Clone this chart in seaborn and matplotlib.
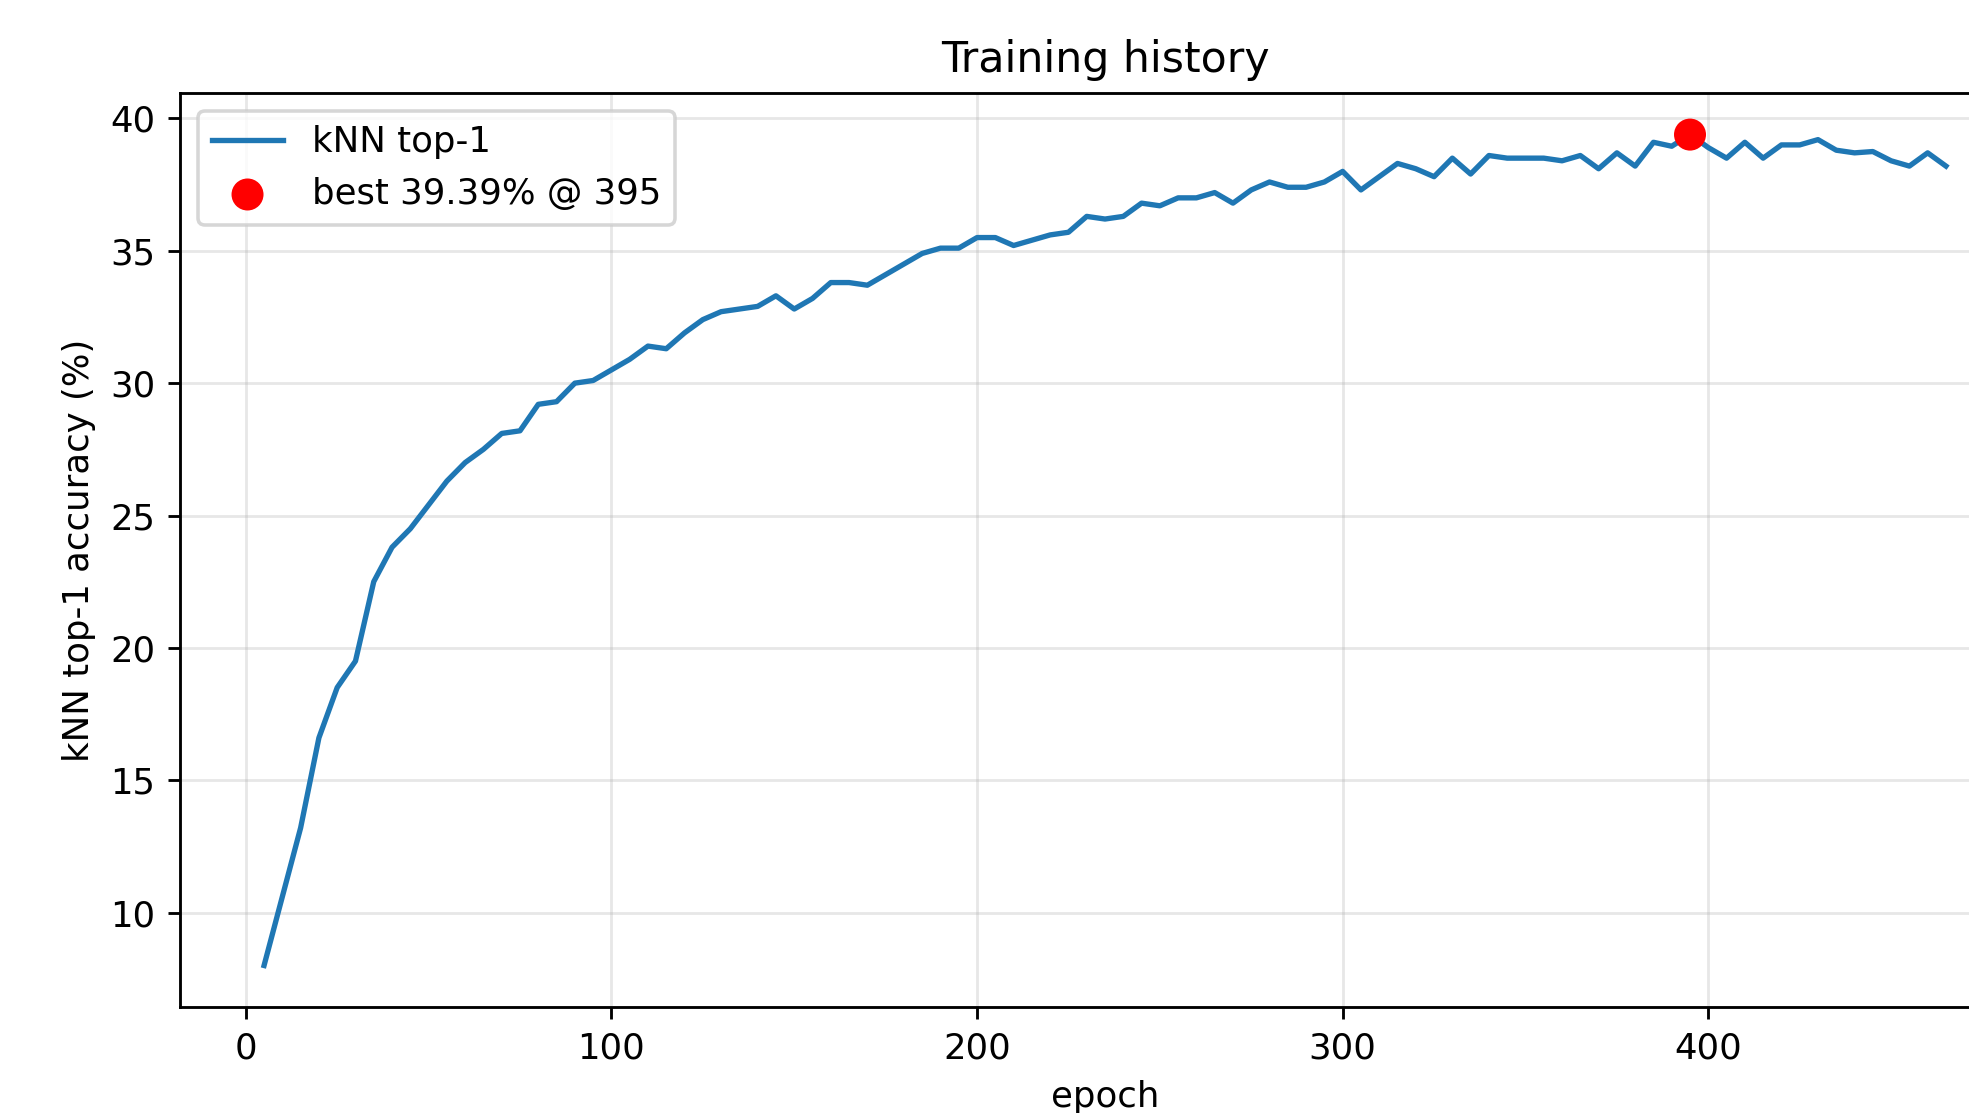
import matplotlib
matplotlib.use("Agg")
import matplotlib.pyplot as plt
import seaborn as sns
import pandas as pd

# kNN top-1 accuracy (%) evaluated every 5 epochs
epochs = list(range(5, 470, 5))
knn_top1 = [
    8.0, 10.6, 13.2, 16.6, 18.5, 19.5, 22.5, 23.8, 24.5, 25.4,
    26.3, 27.0, 27.5, 28.1, 28.2, 29.2, 29.3, 30.0, 30.1, 30.5,
    30.9, 31.4, 31.3, 31.9, 32.4, 32.7, 32.8, 32.9, 33.3, 32.8,
    33.2, 33.8, 33.8, 33.7, 34.1, 34.5, 34.9, 35.1, 35.1, 35.5,
    35.5, 35.2, 35.4, 35.6, 35.7, 36.3, 36.2, 36.3, 36.8, 36.7,
    37.0, 37.0, 37.2, 36.8, 37.3, 37.6, 37.4, 37.4, 37.6, 38.0,
    37.3, 37.8, 38.3, 38.1, 37.8, 38.5, 37.9, 38.6, 38.5, 38.5,
    38.5, 38.4, 38.6, 38.1, 38.7, 38.2, 39.1, 38.95, 39.39, 38.9,
    38.5, 39.1, 38.5, 39.0, 39.0, 39.2, 38.8, 38.7, 38.75, 38.4,
    38.2, 38.7, 38.2,
]

df = pd.DataFrame({"epoch": epochs, "acc": knn_top1})
best_idx = df["acc"].idxmax()
best = df.loc[[best_idx]]

DPI = 256
fig = plt.figure(figsize=(1969 / DPI, 1113 / DPI), dpi=DPI)
# the original figure was cropped on the right and bottom, so the axes run past the edge
ax = fig.add_axes([0.0914, 0.0952, 0.9396, 0.8212])

sns.lineplot(data=df, x="epoch", y="acc", ax=ax, label="kNN top-1", color="#1f77b4", linewidth=1.5)
sns.scatterplot(data=best, x="epoch", y="acc", ax=ax, color="red", s=81, edgecolor="none", zorder=3,
                label=f"best {best['acc'].iloc[0]:.2f}% @ {best['epoch'].iloc[0]}")

ax.set_title("Training history")
ax.set_xlabel("epoch")
ax.set_ylabel("kNN top-1 accuracy (%)")
ax.grid(True, alpha=0.3)
ax.legend(loc="upper left")

fig.savefig("out.png", dpi=DPI)
